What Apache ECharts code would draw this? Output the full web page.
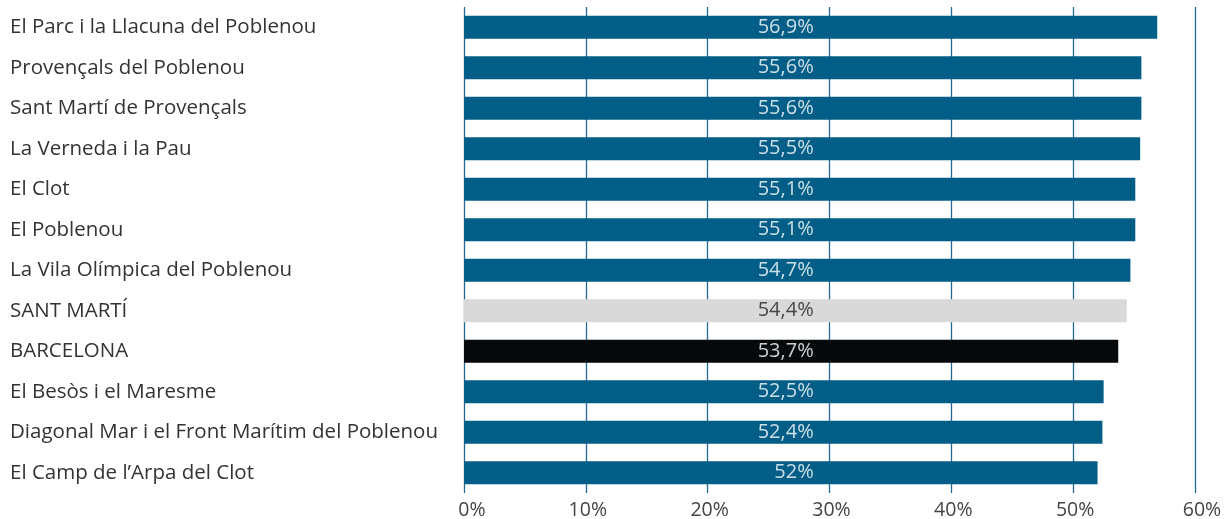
<!DOCTYPE html>
<html><head><meta charset="utf-8">
<script src="https://cdn.jsdelivr.net/npm/echarts@6/dist/echarts.min.js"></script>
<style>html,body{margin:0;padding:0;background:#fff}#c{width:1224px;height:519px}</style>
</head><body><div id="c"></div>
<script>
const categories = [
  "El Parc i la Llacuna del Poblenou",
  "Provençals del Poblenou",
  "Sant Martí de Provençals",
  "La Verneda i la Pau",
  "El Clot",
  "El Poblenou",
  "La Vila Olímpica del Poblenou",
  "SANT MARTÍ",
  "BARCELONA",
  "El Besòs i el Maresme",
  "Diagonal Mar i el Front Marítim del Poblenou",
  "El Camp de l’Arpa del Clot"
];
const values = [56.9, 55.6, 55.6, 55.5, 55.1, 55.1, 54.7, 54.4, 53.7, 52.5, 52.4, 52.0];
const barColors = ["#025d87","#025d87","#025d87","#025d87","#025d87","#025d87","#025d87","#d9d9d9","#05090b","#025d87","#025d87","#025d87"];
const labelColors = ["#fff","#fff","#fff","#fff","#fff","#fff","#fff","#222","#fff","#fff","#fff","#fff"];
const xTicks = [0, 10, 20, 30, 40, 50, 60];
const labelAnchor = 28.7;

const fmt = v => String(v).replace('.', ',') + '%';
const FONT = '"Open Sans"';
const tickStyle = {color: '#444', fontFamily: FONT, fontSize: 19.5};
const chart = echarts.init(document.getElementById('c'));
chart.setOption({
  animation: false,
  grid: {left: 464, right: 29, top: 7, bottom: 26, containLabel: false, outerBoundsMode: 'none'},
  xAxis: {
    type: 'value', min: xTicks[0], max: xTicks[xTicks.length - 1], interval: 10,
    axisLine: {show: false},
    axisTick: {show: false},
    splitLine: {show: true, lineStyle: {color: '#1f6a92', width: 1.3}},
    axisLabel: {
      formatter: v => v === xTicks[0] ? '{first|' + v + '%}' : v === xTicks[xTicks.length - 1] ? '{last|' + v + '%}' : '{mid|' + v + '%}',
      margin: 7,
      rich: {
        first: Object.assign({padding: [0, 0, 0, 16]}, tickStyle),
        last: Object.assign({padding: [0, 0, 0, 14]}, tickStyle),
        mid: Object.assign({padding: [0, 0, 0, 4]}, tickStyle)
      }
    }
  },
  yAxis: {
    type: 'category', data: categories, inverse: true,
    axisLine: {show: false}, axisTick: {show: false},
    axisLabel: {align: 'left', margin: 454, color: '#333', fontFamily: FONT, fontSize: 20.5}
  },
  series: [{
    type: 'bar', barWidth: 23,
    data: values.map((v, i) => ({value: v, itemStyle: {color: barColors[i]}})),
    silent: true
  }, {
    type: 'scatter', symbolSize: 0, silent: true,
    data: values.map((v, i) => ({
      value: [labelAnchor, categories[i]],
      label: {show: true, position: 'left', distance: 0, formatter: fmt(v),
        color: labelColors[i], fontFamily: FONT, fontSize: 20}
    }))
  }]
});
</script></body></html>
